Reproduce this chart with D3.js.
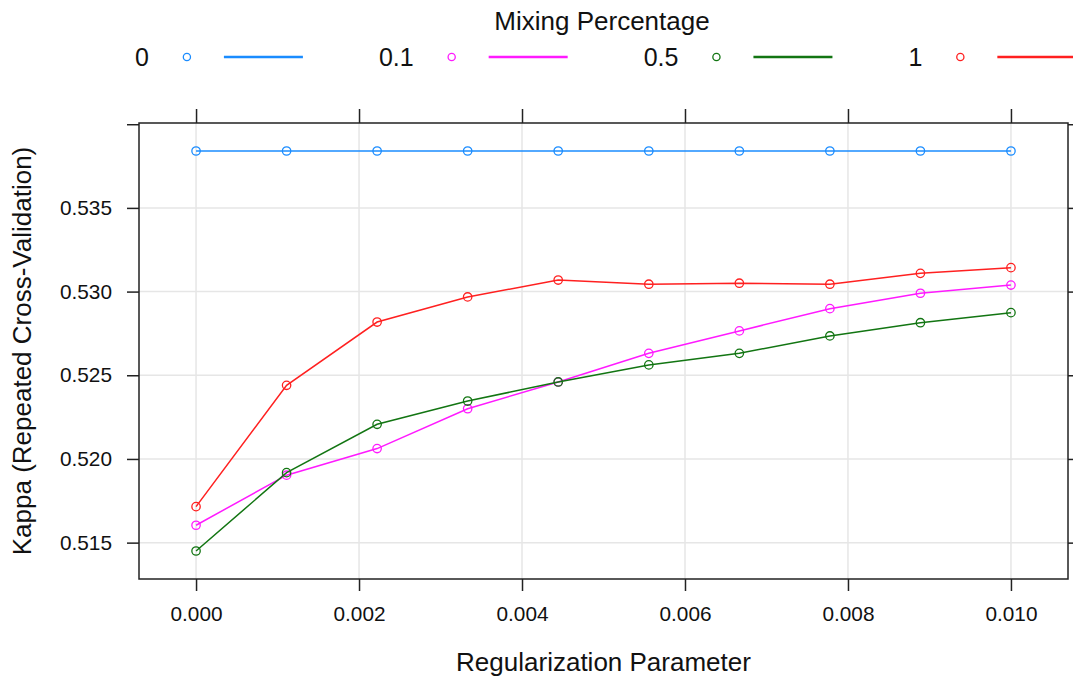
<!DOCTYPE html>
<html>
  <head>
    <meta charset="utf-8">
    <title>Kappa vs Regularization Parameter</title>
    <script src="https://d3js.org/d3.v7.min.js"></script>
    <style>
      body { margin: 0; background: #fff; }
      text { font-family: "Liberation Sans", Arial, sans-serif; fill: #111; }
      .grid line { stroke: #e6e6e6; stroke-width: 1.5; }
      .tick-label { font-size: 20.8px; }
      .axis-title { font-size: 26px; }
    </style>
  </head>
  <body>
    <script>
      // data
      var lambdas = [0, 0.001111, 0.002222, 0.003333, 0.004444, 0.005556, 0.006667, 0.007778, 0.008889, 0.010];
      var mixing = ["0", "0.1", "0.5", "1"];
      var kappa0   = [0.5384, 0.5384, 0.5384, 0.5384, 0.5384, 0.5384, 0.5384, 0.5384, 0.5384, 0.5384];
      var kappa01  = [0.51604, 0.51903, 0.52062, 0.52300, 0.52460, 0.52631, 0.52765, 0.52898, 0.52990, 0.53039];
      var kappa05  = [0.51450, 0.51918, 0.52207, 0.52346, 0.52460, 0.52562, 0.52631, 0.52735, 0.52814, 0.52874];
      var kappa1   = [0.51715, 0.52440, 0.52818, 0.52968, 0.53069, 0.53044, 0.53050, 0.53044, 0.53109, 0.53143];
      var xTicks = [0, 0.002, 0.004, 0.006, 0.008, 0.010];
      var yTicks = [0.515, 0.520, 0.525, 0.530, 0.535, 0.540];
      var yLabelled = [0.515, 0.520, 0.525, 0.530, 0.535];
      var colors = ["#1a8cff", "#ff1aff", "#127512", "#ff2020"];

      var series = [kappa0, kappa01, kappa05, kappa1];

      var width = 1073, height = 684;
      var pLeft = 139, pRight = 1068, pTop = 123, pBottom = 579;

      var svg = d3.select("body").append("svg")
          .attr("width", width)
          .attr("height", height);

      // lattice style padding: 7% each side
      var allY = d3.merge(series);
      var yMin = d3.min(allY), yMax = d3.max(allY);
      var yPad = (yMax - yMin) * 0.07;
      var xPad = (d3.max(lambdas) - d3.min(lambdas)) * 0.07;

      var x = d3.scaleLinear()
          .domain([d3.min(lambdas) - xPad, d3.max(lambdas) + xPad])
          .range([pLeft, pRight]);
      var y = d3.scaleLinear()
          .domain([yMin - yPad, yMax + yPad])
          .range([pBottom, pTop]);

      // grid
      var grid = svg.append("g").attr("class", "grid");
      grid.selectAll(".gx").data(xTicks).enter().append("line")
          .attr("x1", function(d) { return x(d); })
          .attr("x2", function(d) { return x(d); })
          .attr("y1", pTop).attr("y2", pBottom);
      grid.selectAll(".gy").data(yLabelled).enter().append("line")
          .attr("y1", function(d) { return y(d); })
          .attr("y2", function(d) { return y(d); })
          .attr("x1", pLeft).attr("x2", pRight);

      // axes, ticks on all four sides
      function styleAxis(g) {
        g.attr("font-family", null).attr("font-size", null);
        g.select(".domain").remove();
        g.selectAll(".tick line").attr("stroke", "#222").attr("stroke-width", 1.5);
        g.selectAll(".tick text").attr("class", "tick-label").attr("fill", "#111");
      }
      svg.append("g")
          .attr("transform", "translate(0," + pBottom + ")")
          .call(d3.axisBottom(x).tickValues(xTicks).tickFormat(d3.format(".3f")).tickSize(12).tickPadding(15))
          .call(styleAxis);
      svg.append("g")
          .attr("transform", "translate(0," + pTop + ")")
          .call(d3.axisTop(x).tickValues(xTicks).tickFormat("").tickSize(14))
          .call(styleAxis);
      svg.append("g")
          .attr("transform", "translate(" + pLeft + ",0)")
          .call(d3.axisLeft(y).tickValues(yTicks).tickSize(12).tickPadding(15)
                .tickFormat(function(d) { return yLabelled.indexOf(d) >= 0 ? d3.format(".3f")(d) : ""; }))
          .call(styleAxis);
      svg.append("g")
          .attr("transform", "translate(" + pRight + ",0)")
          .call(d3.axisRight(y).tickValues(yTicks).tickFormat("").tickSize(12))
          .call(styleAxis);

      // panel box
      svg.append("rect")
          .attr("x", pLeft).attr("y", pTop)
          .attr("width", pRight - pLeft).attr("height", pBottom - pTop)
          .attr("fill", "none").attr("stroke", "#222").attr("stroke-width", 1.5);

      // lines and points
      var line = d3.line()
          .x(function(d, i) { return x(lambdas[i]); })
          .y(function(d) { return y(d); });

      series.forEach(function(s, k) {
        svg.append("path")
            .datum(s)
            .attr("d", line)
            .attr("fill", "none")
            .attr("stroke", colors[k])
            .attr("stroke-width", 1.5);
        svg.selectAll(".pt" + k).data(s).enter().append("circle")
            .attr("cx", function(d, i) { return x(lambdas[i]); })
            .attr("cy", function(d) { return y(d); })
            .attr("r", 4.2)
            .attr("fill", "none")
            .attr("stroke", colors[k])
            .attr("stroke-width", 1.3);
      });

      // axis titles
      svg.append("text")
          .attr("class", "axis-title")
          .attr("x", (pLeft + pRight) / 2)
          .attr("y", 671)
          .attr("text-anchor", "middle")
          .text("Regularization Parameter");
      svg.append("text")
          .attr("class", "axis-title")
          .attr("transform", "translate(31," + (pTop + pBottom) / 2 + ") rotate(-90)")
          .attr("text-anchor", "middle")
          .text("Kappa (Repeated Cross-Validation)");

      // legend
      svg.append("text")
          .attr("class", "axis-title")
          .attr("x", 602)
          .attr("y", 30)
          .attr("text-anchor", "middle")
          .text("Mixing Percentage");

      var legendY = 57;
      var cursor = 135;
      mixing.forEach(function(m, k) {
        var t = svg.append("text")
            .attr("x", cursor)
            .attr("y", legendY)
            .attr("dy", "0.36em")
            .attr("font-size", "25px")
            .text(m);
        var tw = t.node().getComputedTextLength();
        var px = cursor + tw + 38;
        svg.append("circle")
            .attr("cx", px).attr("cy", legendY)
            .attr("r", 3.6)
            .attr("fill", "none")
            .attr("stroke", colors[k])
            .attr("stroke-width", 1.3);
        svg.append("line")
            .attr("x1", px + 37).attr("x2", px + 116)
            .attr("y1", legendY).attr("y2", legendY)
            .attr("stroke", colors[k])
            .attr("stroke-width", 2.5);
        cursor = px + 116 + 76;
      });
    </script>
  </body>
</html>
